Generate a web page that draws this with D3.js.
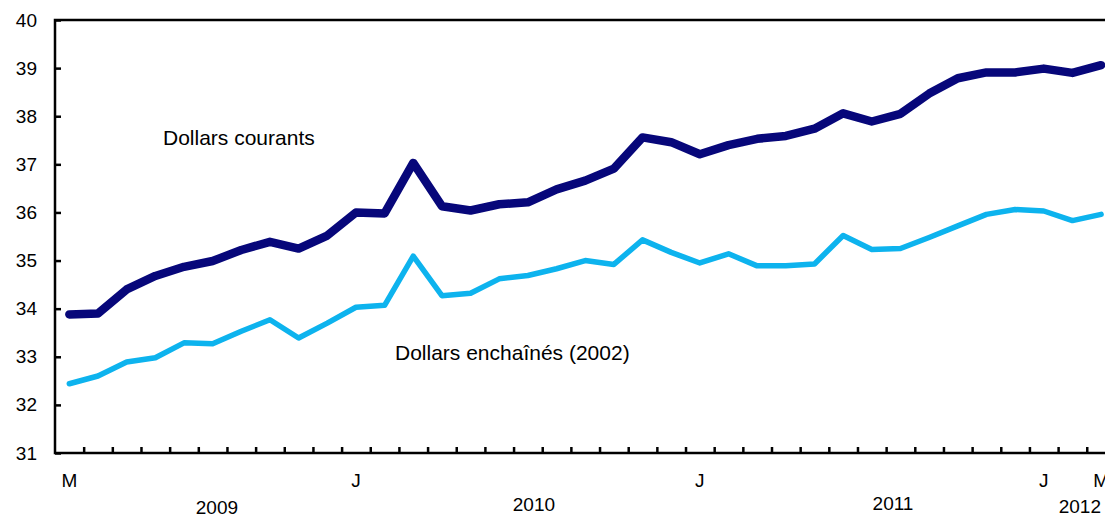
<!DOCTYPE html>
<html>
<head>
<meta charset="utf-8">
<script src="https://cdn.jsdelivr.net/npm/d3@7"></script>
<style>
  body { margin: 0; background: #fff; }
  text { font-family: "Liberation Sans", Arial, Helvetica, sans-serif; fill: #000; }
</style>
</head>
<body>
<div id="chart-area"></div>
<script>
// monthly values, March 2009 to March 2012
var months = ["2009-03","2009-04","2009-05","2009-06","2009-07","2009-08","2009-09","2009-10","2009-11","2009-12",
              "2010-01","2010-02","2010-03","2010-04","2010-05","2010-06","2010-07","2010-08","2010-09","2010-10","2010-11","2010-12",
              "2011-01","2011-02","2011-03","2011-04","2011-05","2011-06","2011-07","2011-08","2011-09","2011-10","2011-11","2011-12",
              "2012-01","2012-02","2012-03"]
var courants = [33.88,33.90,34.40,34.68,34.87,34.99,35.22,35.39,35.25,35.52,
                36.00,35.98,37.03,36.13,36.04,36.17,36.21,36.48,36.66,36.91,37.56,37.46,
                37.21,37.40,37.53,37.59,37.74,38.06,37.89,38.05,38.47,38.79,38.91,38.91,
                38.99,38.90,39.06]
var enchaines = [32.44,32.60,32.89,32.98,33.29,33.27,33.53,33.77,33.39,33.70,
                 34.03,34.07,35.09,34.27,34.32,34.62,34.69,34.83,35.00,34.92,35.43,35.17,
                 34.95,35.14,34.89,34.89,34.93,35.52,35.23,35.25,35.48,35.72,35.96,36.06,
                 36.03,35.83,35.96]
var yTicks = [31,32,33,34,35,36,37,38,39,40]
var monthLabels = [[0,"M"],[10,"J"],[22,"J"],[34,"J"],[36,"M"]]
var yearLabels = ["2009","2010","2011","2012"]

var W = 1105, H = 515
var margin = {left: 55, top: 20, bottom: 453}
var step = 28.66

var svg = d3.select("#chart-area").append("svg")
    .attr("width", W).attr("height", H)

var x = d3.scaleLinear().domain([0, months.length]).range([margin.left, margin.left + months.length * step])
var y = d3.scaleLinear().domain([31, 40]).range([margin.bottom, margin.top])

// frame (right side falls outside the window)
svg.append("rect")
    .attr("x", x(0)).attr("y", y(40))
    .attr("width", x(months.length) - x(0)).attr("height", y(31) - y(40))
    .attr("fill", "none").attr("stroke", "#000").attr("stroke-width", 2.5)

// y axis, ticks pointing inward
var leftAxis = d3.axisLeft(y).tickValues(yTicks).tickSize(-6).tickPadding(18).tickFormat(d3.format("d"))
var gy = svg.append("g").attr("transform", `translate(${margin.left},0)`).call(leftAxis)
gy.select(".domain").remove()
gy.selectAll("line").attr("stroke", "#000").attr("stroke-width", 2.5)
gy.selectAll("text").attr("font-size", "19px").attr("font-family", "Liberation Sans, Arial, sans-serif").attr("fill", "#000")

// x axis, ticks between months
var bottomAxis = d3.axisBottom(x).tickValues(d3.range(1, months.length)).tickSize(-6).tickFormat("")
var gx = svg.append("g").attr("transform", `translate(0,${margin.bottom})`).call(bottomAxis)
gx.select(".domain").remove()
gx.selectAll("line").attr("stroke", "#000").attr("stroke-width", 2.5)

svg.selectAll(".month-label").data(monthLabels).enter()
    .append("text").attr("class", "month-label")
    .attr("x", d => x(d[0] + 0.5)).attr("y", 486.5)
    .attr("text-anchor", "middle").attr("font-size", "19px")
    .text(d => d[1])

// year labels sit a little off the year centres, as in the original
var yearAt = [5.65, 16.71, 29.24, 35.76]
var yearBase = [514, 511, 510, 513]
svg.selectAll(".year-label").data(yearLabels).enter()
    .append("text").attr("class", "year-label")
    .attr("x", (d, i) => x(yearAt[i])).attr("y", (d, i) => yearBase[i])
    .attr("text-anchor", "middle").attr("font-size", "19px")
    .text(d => d)

var line = d3.line().x((d, i) => x(i + 0.5)).y(d => y(d))

svg.append("path").datum(enchaines)
    .attr("d", line).attr("fill", "none")
    .attr("stroke", "#0db3ee").attr("stroke-width", 5.5)
    .attr("stroke-linejoin", "round").attr("stroke-linecap", "round")

svg.append("path").datum(courants)
    .attr("d", line).attr("fill", "none")
    .attr("stroke", "#07077a").attr("stroke-width", 8.5)
    .attr("stroke-linejoin", "round").attr("stroke-linecap", "round")

svg.append("text").attr("x", 163).attr("y", 145).attr("font-size", "21px").text("Dollars courants")
svg.append("text").attr("x", 395).attr("y", 360).attr("font-size", "21px").text("Dollars enchaînés (2002)")
</script>
</body>
</html>
